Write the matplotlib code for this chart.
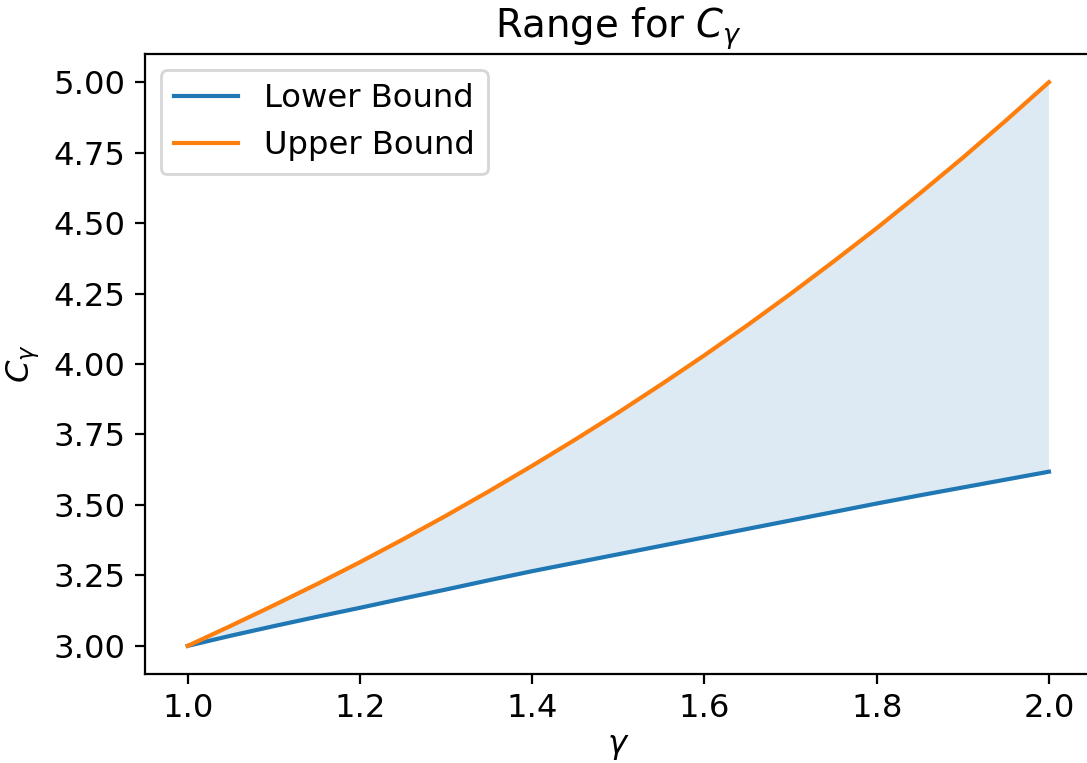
import matplotlib
matplotlib.use("Agg")
import matplotlib.pyplot as plt

plt.rcParams["font.size"] = 11.6

# gamma grid and the two bounds on C_gamma
gamma = [1.00, 1.05, 1.10, 1.15, 1.20, 1.25, 1.30, 1.35, 1.40, 1.45, 1.50,
         1.55, 1.60, 1.65, 1.70, 1.75, 1.80, 1.85, 1.90, 1.95, 2.00]
lower = [3.000, 3.036, 3.070, 3.103, 3.135, 3.168, 3.200, 3.233, 3.265, 3.295, 3.325,
         3.355, 3.385, 3.415, 3.445, 3.475, 3.505, 3.534, 3.562, 3.590, 3.618]
upper = [3.000, 3.071, 3.144, 3.219, 3.297, 3.378, 3.462, 3.549, 3.639, 3.732, 3.828,
         3.928, 4.031, 4.138, 4.249, 4.364, 4.482, 4.605, 4.732, 4.864, 5.000]

fig, ax = plt.subplots(figsize=(5.435, 3.815), dpi=200)
fig.subplots_adjust(left=0.1331, right=1.0046, top=0.9292, bottom=0.1166)

ax.plot(gamma, lower, label="Lower Bound")
ax.plot(gamma, upper, label="Upper Bound")
ax.fill_between(gamma, lower, upper, alpha=0.15)

ax.set_xlabel(r"$\gamma$", labelpad=2.5)
ax.set_ylabel(r"$C_\gamma$")
ax.set_title(r"Range for $C_\gamma$")
ax.legend(loc="upper left")

fig.savefig("out.png", dpi=200)
